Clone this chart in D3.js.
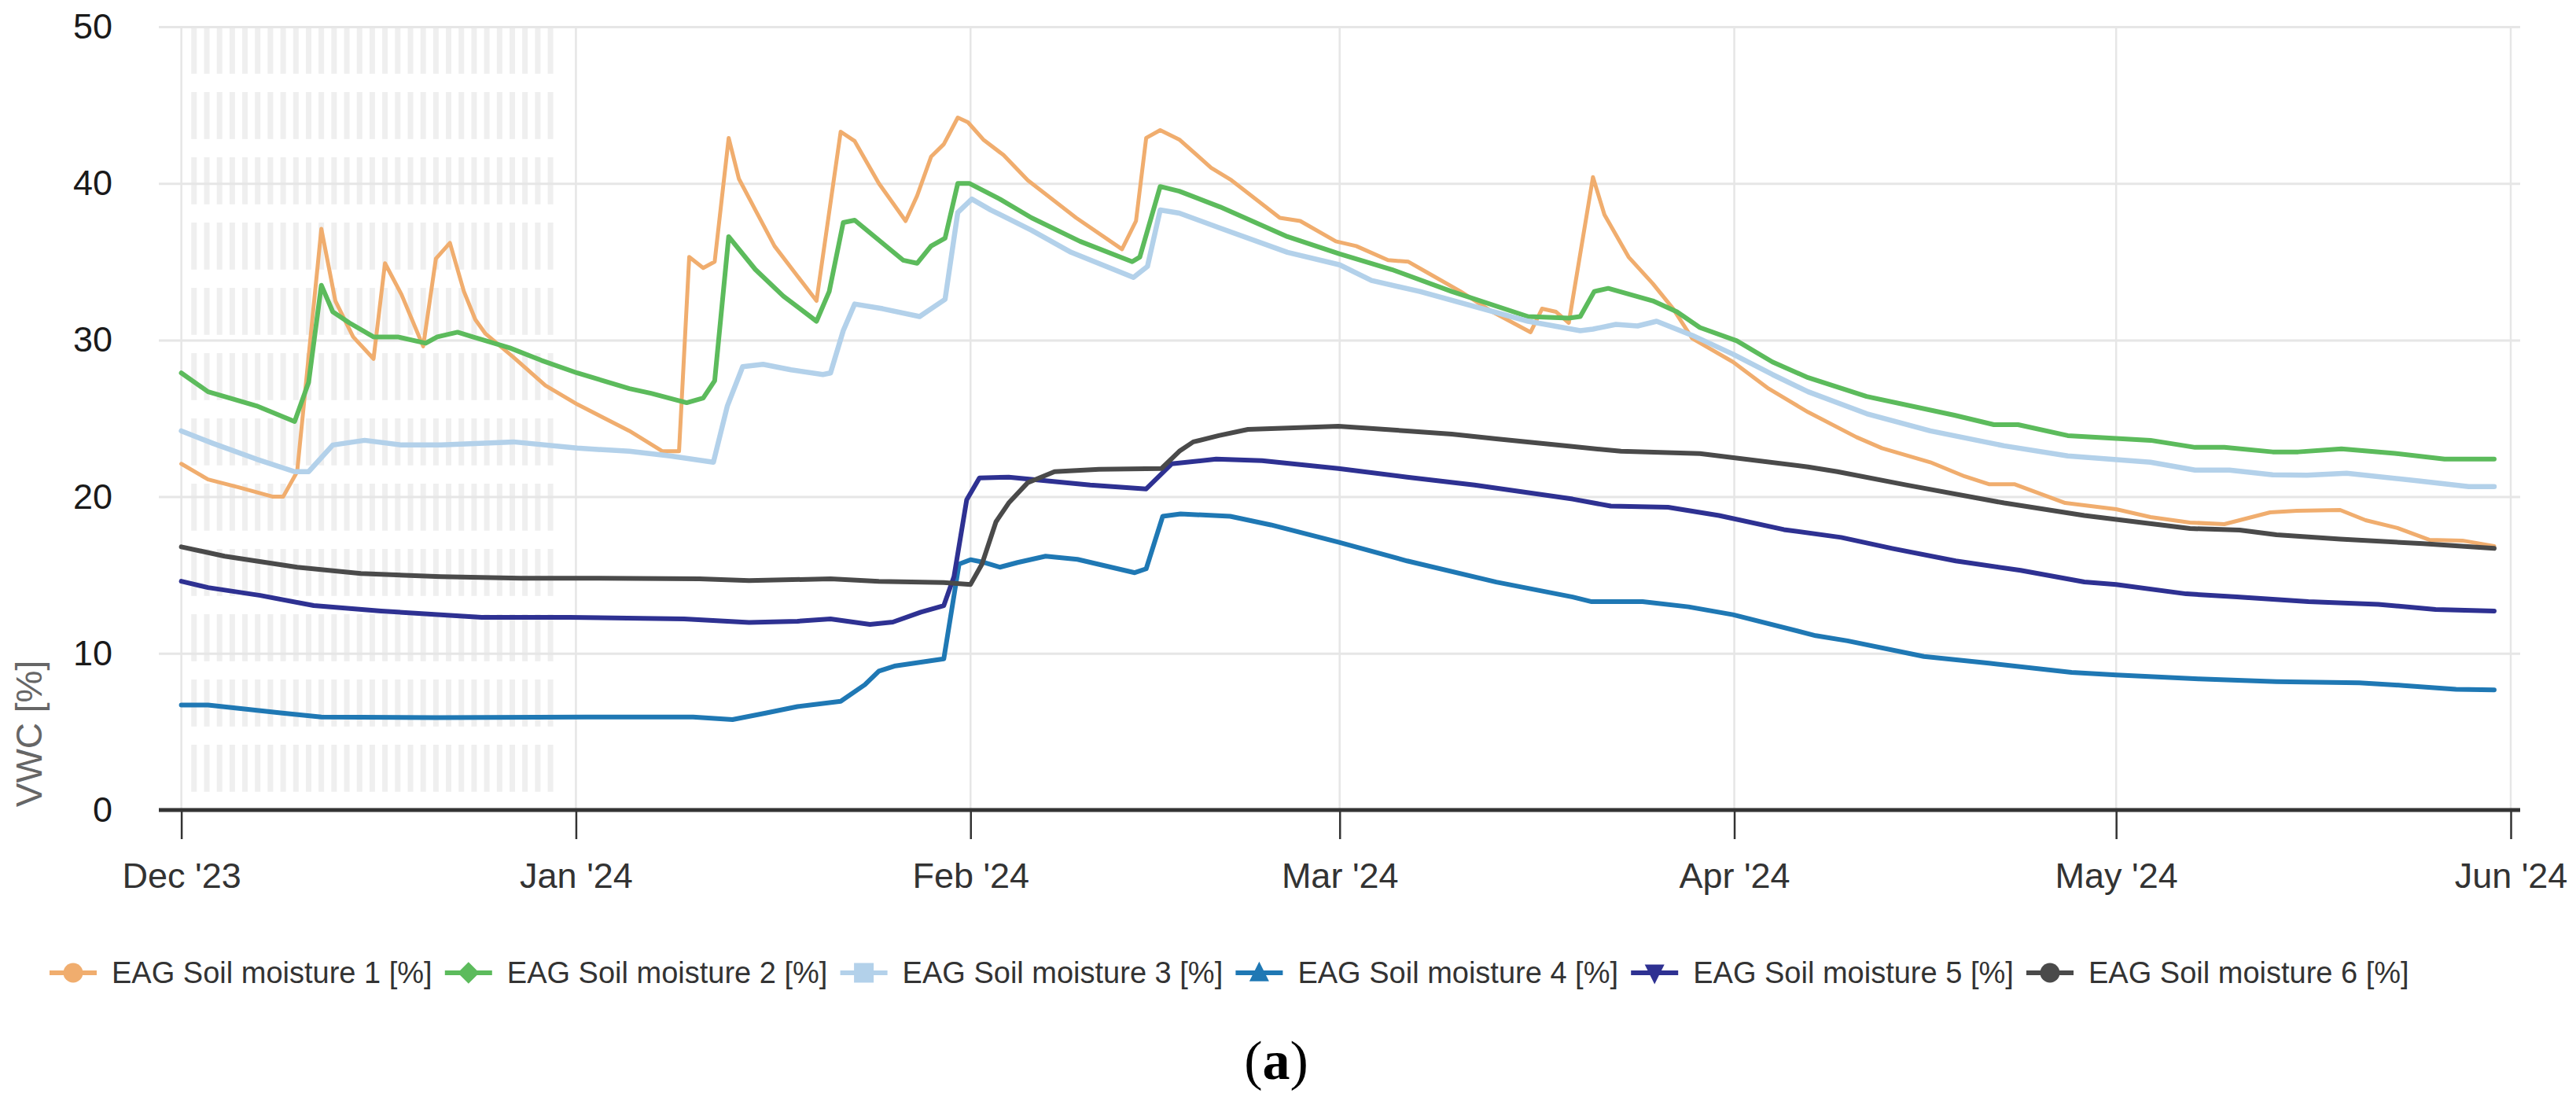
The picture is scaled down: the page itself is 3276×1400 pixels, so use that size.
<!DOCTYPE html>
<html><head><meta charset="utf-8">
<script src="https://cdn.jsdelivr.net/npm/d3@7"></script>
<style>
html,body{margin:0;padding:0;background:#fff;}
svg{display:block;}
</style></head>
<body>
<svg id="chart" width="3276" height="1400"></svg>
<script>
// ---------- data ----------
const seriesNames = ["EAG Soil moisture 1 [%]","EAG Soil moisture 2 [%]","EAG Soil moisture 3 [%]",
                     "EAG Soil moisture 4 [%]","EAG Soil moisture 5 [%]","EAG Soil moisture 6 [%]"];
const seriesColors = ["#F0AD6E","#5CBB5C","#B3D1EA","#1F78B4","#2E3192","#4A4A4A"];
const seriesSymbols = ["circle","diamond","square","triangle","triangle-down","circle"];
const monthTicks = ["2023-12-01","2024-01-01","2024-02-01","2024-03-01","2024-04-01","2024-05-01","2024-06-01"];
const yTicks = [0,10,20,30,40,50];
const startDate = "2023-12-01";   // day 0 of the [day, value] pairs
const yAxisTitle = "VWC [%]";
const caption = ["(", "a", ")"];

const sm1 = [[0,22.1],[2.1,21.1],[4.5,20.6],[7.2,20.0],[8.0,20.0],[9.1,21.6],[11.0,37.1],[12.1,32.5],[13.5,30.2],[15.1,28.8],[16.0,34.9],[17.3,32.9],[19.0,29.6],[20.0,35.2],[21.1,36.2],[22.2,33.1],[23.1,31.3],[23.9,30.4],[26.1,28.9],[28.6,27.1],[31.1,25.9],[35.2,24.2],[37.8,22.9],[39.1,22.9],[39.9,35.3],[41.0,34.6],[41.9,35.0],[43.0,42.9],[43.8,40.3],[45.1,38.3],[46.6,36.0],[48.2,34.3],[49.9,32.5],[51.8,43.3],[52.9,42.7],[54.8,40.0],[56.9,37.6],[57.8,39.2],[58.9,41.7],[59.9,42.5],[61.0,44.2],[61.8,43.9],[63.0,42.8],[64.6,41.8],[66.5,40.2],[70.3,37.8],[73.9,35.8],[75.0,37.6],[75.8,42.9],[76.9,43.4],[78.4,42.8],[80.9,41.0],[82.5,40.2],[86.3,37.8],[87.9,37.6],[90.7,36.3],[92.3,36.0],[94.8,35.1],[96.4,35.0],[97.9,34.3],[100.5,33.1],[103.0,31.8],[106.0,30.5],[106.9,32.0],[108.0,31.8],[109.0,31.1],[110.9,40.4],[111.8,38.0],[113.7,35.3],[115.6,33.6],[117.2,32.0],[118.7,30.1],[121.9,28.6],[124.7,26.9],[127.8,25.4],[131.6,23.8],[133.6,23.1],[137.4,22.2],[140.1,21.3],[142.0,20.8],[144.0,20.8],[148.0,19.6],[152.0,19.2],[154.7,18.7],[157.8,18.35],[160.5,18.25],[164.1,19.0],[166.2,19.1],[169.6,19.15],[171.6,18.5],[174.1,18.0],[176.6,17.25],[179.2,17.2],[181.7,16.85]];

const sm2 = [[0,27.9],[2.1,26.7],[5.9,25.8],[8.9,24.8],[10.0,27.3],[11.0,33.5],[11.9,31.8],[13.2,31.1],[15.1,30.2],[17.0,30.2],[19.2,29.8],[20.1,30.2],[21.7,30.5],[22.9,30.2],[25.8,29.5],[28.3,28.7],[31.1,27.9],[35.2,26.9],[36.9,26.6],[39.7,26.0],[41.0,26.3],[41.9,27.4],[43.0,36.6],[45.1,34.5],[47.3,32.8],[49.9,31.2],[50.9,33.1],[52.0,37.5],[52.9,37.65],[56.7,35.1],[57.8,34.9],[58.9,36.0],[60.0,36.5],[61.0,40.0],[61.9,40.0],[64.3,39.0],[66.8,37.8],[70.6,36.3],[74.7,35.0],[75.3,35.3],[76.9,39.8],[78.4,39.5],[81.6,38.5],[86.9,36.6],[91.0,35.5],[95.1,34.5],[99.8,33.1],[105.8,31.5],[109.0,31.4],[109.9,31.5],[111.0,33.1],[112.1,33.3],[115.6,32.5],[117.5,31.8],[119.3,30.8],[122.2,29.95],[125.0,28.6],[127.8,27.6],[132.4,26.4],[139.3,25.2],[142.4,24.6],[144.3,24.6],[148.2,23.9],[154.7,23.6],[158.2,23.15],[160.5,23.15],[164.3,22.86],[166.3,22.86],[169.7,23.05],[173.9,22.77],[177.8,22.4],[181.7,22.4]];

const sm3 = [[0,24.2],[2.5,23.4],[5.9,22.4],[8.9,21.6],[10.0,21.6],[11.9,23.3],[14.4,23.6],[17.3,23.3],[20.4,23.3],[26.1,23.5],[31.1,23.1],[35.2,22.9],[38.4,22.6],[41.8,22.2],[42.9,25.8],[44.1,28.3],[45.7,28.45],[47.9,28.1],[50.4,27.8],[51.0,27.9],[52.0,30.6],[52.9,32.3],[55.1,32.0],[58.0,31.5],[58.9,32.0],[60.0,32.6],[61.0,38.15],[62.1,39.0],[63.6,38.3],[66.8,37.0],[69.9,35.6],[74.8,34.0],[75.9,34.7],[76.9,38.3],[78.4,38.1],[81.6,37.15],[86.9,35.6],[91.0,34.8],[93.5,33.8],[97.3,33.1],[105.8,31.2],[109.9,30.6],[110.9,30.7],[112.7,31.0],[114.4,30.9],[115.9,31.2],[118.7,30.3],[121.9,29.1],[125.0,27.8],[127.8,26.7],[132.4,25.3],[137.4,24.2],[143.2,23.25],[148.2,22.6],[154.7,22.2],[158.2,21.7],[160.9,21.7],[164.3,21.4],[167.0,21.37],[170.1,21.5],[175.9,21.0],[179.7,20.65],[181.7,20.65]];

const sm4 = [[0,6.7],[2.1,6.7],[7.8,6.2],[11.0,5.94],[20.0,5.9],[31.8,5.94],[40.2,5.94],[43.3,5.77],[45.9,6.19],[48.4,6.6],[51.8,6.94],[53.7,8.0],[54.8,8.87],[56.1,9.2],[59.9,9.65],[61.1,15.7],[62.0,15.98],[63.1,15.8],[64.3,15.5],[65.7,15.8],[67.9,16.2],[70.4,16.0],[74.9,15.15],[75.8,15.4],[77.1,18.75],[78.5,18.9],[82.4,18.75],[85.6,18.2],[90.9,17.1],[96.3,15.9],[103.3,14.55],[109.3,13.6],[110.8,13.3],[114.8,13.3],[118.4,12.97],[121.9,12.47],[128.4,11.13],[130.9,10.8],[136.9,9.8],[142.0,9.37],[148.5,8.78],[152.0,8.62],[158.5,8.37],[164.6,8.2],[171.1,8.12],[174.6,7.95],[178.7,7.7],[181.7,7.67]];

const sm5 = [[0,14.6],[2.1,14.2],[6.2,13.7],[10.4,13.05],[15.7,12.7],[23.6,12.3],[30.5,12.3],[39.5,12.2],[44.6,11.97],[48.4,12.05],[51.0,12.2],[54.1,11.85],[55.9,12.0],[58.1,12.63],[59.9,13.05],[60.7,14.9],[61.7,19.8],[62.7,21.2],[65.0,21.25],[71.4,20.75],[75.8,20.5],[77.8,22.1],[81.3,22.4],[84.9,22.3],[90.9,21.8],[96.3,21.25],[101.6,20.75],[109.3,19.85],[112.3,19.4],[116.8,19.33],[120.8,18.8],[125.9,17.9],[130.4,17.4],[134.4,16.7],[139.4,15.9],[144.5,15.3],[149.5,14.56],[152.0,14.4],[157.5,13.8],[161.5,13.6],[167.1,13.3],[172.6,13.13],[177.1,12.8],[181.7,12.7]];

const sm6 = [[0,16.8],[3.4,16.2],[9.1,15.5],[14.1,15.1],[20.4,14.9],[26.7,14.8],[31.0,14.8],[40.7,14.76],[44.6,14.64],[51.0,14.76],[54.8,14.6],[59.9,14.52],[62.0,14.4],[62.9,15.7],[64.0,18.4],[65.0,19.6],[66.5,20.9],[68.6,21.6],[72.1,21.75],[77.0,21.8],[78.4,22.9],[79.5,23.5],[81.5,23.9],[83.8,24.3],[87.4,24.4],[90.9,24.5],[96.3,24.2],[99.8,24.0],[103.3,23.7],[109.3,23.2],[113.1,22.9],[119.3,22.75],[127.8,21.9],[130.1,21.6],[135.5,20.75],[143.2,19.6],[149.5,18.8],[157.8,17.97],[161.7,17.87],[164.6,17.57],[169.6,17.3],[176.1,17.0],[181.7,16.7]];

const allSeries = [sm1, sm2, sm3, sm4, sm5, sm6];

// ---------- layout ----------
const W = 3276, H = 1400;
const plotLeft = 202, plotRight = 3205, plotTop = 34, plotBottom = 1030;
const font = "'Liberation Sans', Arial, Helvetica, sans-serif";

const svg = d3.select("#chart");
svg.append("rect").attr("width", W).attr("height", H).attr("fill", "#fff");

const t0 = d3.utcParse("%Y-%m-%d")(startDate);
const toDate = d => new Date(t0.getTime() + d * 864e5);
const monthDates = monthTicks.map(d3.utcParse("%Y-%m-%d"));

const x = d3.scaleUtc().domain([monthDates[0], monthDates[monthDates.length - 1]]).range([230.6, 3193]);
const y = d3.scaleLinear().domain([0, 50]).range([plotBottom, plotTop]);

// ---------- December hatch pattern ----------
const hatchDays = d3.utcDay.range(d3.utcDay.offset(monthDates[0], 1), d3.utcDay.offset(monthDates[1], -1));
const bandCount = 12;
const period = (y(0) - y(50)) / bandCount;
const hatch = svg.append("g");
hatchDays.forEach(dd => {
  d3.range(bandCount).forEach(j => {
    hatch.append("rect")
      .attr("x", x(dd) - 3.5).attr("width", 7)
      .attr("y", y(50) + j * period).attr("height", period * 0.72)
      .attr("fill", "#efefef");
  });
});

// ---------- grid ----------
const grid = svg.append("g");
grid.selectAll("line.v").data(monthDates).join("line")
  .attr("x1", d => x(d)).attr("x2", d => x(d))
  .attr("y1", plotTop).attr("y2", plotBottom)
  .attr("stroke", "#e6e6e6").attr("stroke-width", 2.5);

const yAxis = d3.axisLeft(y).tickValues(yTicks).tickSize(-(plotRight - plotLeft)).tickPadding(59).tickFormat(d3.format("d"));
const gy = svg.append("g").attr("transform", `translate(${plotLeft},0)`).call(yAxis);
gy.select(".domain").remove();
gy.selectAll(".tick line").attr("stroke", "#e6e6e6").attr("stroke-width", 3);
gy.selectAll(".tick text").attr("font-family", font).attr("font-size", 45).attr("fill", "#1a1a1a");
gy.selectAll(".tick").filter(d => d === 0).select("line").remove();

// ---------- series ----------
const line = d3.line().x(d => x(toDate(d[0]))).y(d => y(d[1]));
const widths = [5, 6, 6.5, 6, 6, 6];
allSeries.forEach((s, i) => {
  svg.append("path").datum(s).attr("d", line)
    .attr("fill", "none").attr("stroke", seriesColors[i]).attr("stroke-width", widths[i])
    .attr("stroke-linejoin", "round").attr("stroke-linecap", "round");
});

// ---------- x axis ----------
const xAxis = d3.axisBottom(x).tickValues(monthDates).tickSize(37).tickPadding(30)
  .tickFormat(d => d3.utcFormat("%b '%y")(d));
const gx = svg.append("g").attr("transform", `translate(0,${plotBottom})`).call(xAxis);
gx.select(".domain").remove();
gx.selectAll(".tick line").attr("stroke", "#333").attr("stroke-width", 2.5);
gx.selectAll(".tick text").attr("font-family", font).attr("font-size", 45).attr("fill", "#333");
svg.append("line").attr("x1", plotLeft).attr("x2", plotRight).attr("y1", plotBottom).attr("y2", plotBottom)
  .attr("stroke", "#333").attr("stroke-width", 5);

// ---------- axis title ----------
svg.append("text").attr("transform", "translate(53,933) rotate(-90)")
  .attr("text-anchor", "middle").attr("font-family", font).attr("font-size", 46).attr("fill", "#666")
  .text(yAxisTitle);

// ---------- legend ----------
const legendY = 1237, legendX0 = 63, legendStep = 502.8;
function symbolPath(type, r) {
  switch (type) {
    case "diamond": return `M0,${-r*1.1}L${r*1.1},0L0,${r*1.1}L${-r*1.1},0Z`;
    case "square": return `M${-r},${-r}H${r}V${r}H${-r}Z`;
    case "triangle": return `M0,${-r*1.15}L${r},${r*0.85}L${-r},${r*0.85}Z`;
    case "triangle-down": return `M0,${r*1.15}L${r},${-r*0.85}L${-r},${-r*0.85}Z`;
    default: return d3.arc()({innerRadius: 0, outerRadius: r, startAngle: 0, endAngle: 2 * Math.PI});
  }
}
const legend = svg.append("g");
seriesNames.forEach((name, i) => {
  const g = legend.append("g").attr("transform", `translate(${legendX0 + i * legendStep},${legendY})`);
  g.append("line").attr("x1", 0).attr("x2", 60).attr("y1", 0).attr("y2", 0)
    .attr("stroke", seriesColors[i]).attr("stroke-width", 6);
  g.append("path").attr("transform", "translate(30,0)").attr("d", symbolPath(seriesSymbols[i], 12.5))
    .attr("fill", seriesColors[i]);
  g.append("text").attr("x", 79).attr("y", 0).attr("dy", "0.35em")
    .attr("font-family", font).attr("font-size", 38).attr("fill", "#333").text(name);
});

// ---------- caption ----------
const cap = svg.append("text").attr("x", 1623).attr("y", 1372).attr("text-anchor", "middle")
  .attr("font-family", "'Liberation Serif', 'Times New Roman', serif").attr("font-size", 70).attr("fill", "#000");
cap.append("tspan").text(caption[0]);
cap.append("tspan").attr("font-weight", "bold").text(caption[1]);
cap.append("tspan").text(caption[2]);
</script>
</body></html>
